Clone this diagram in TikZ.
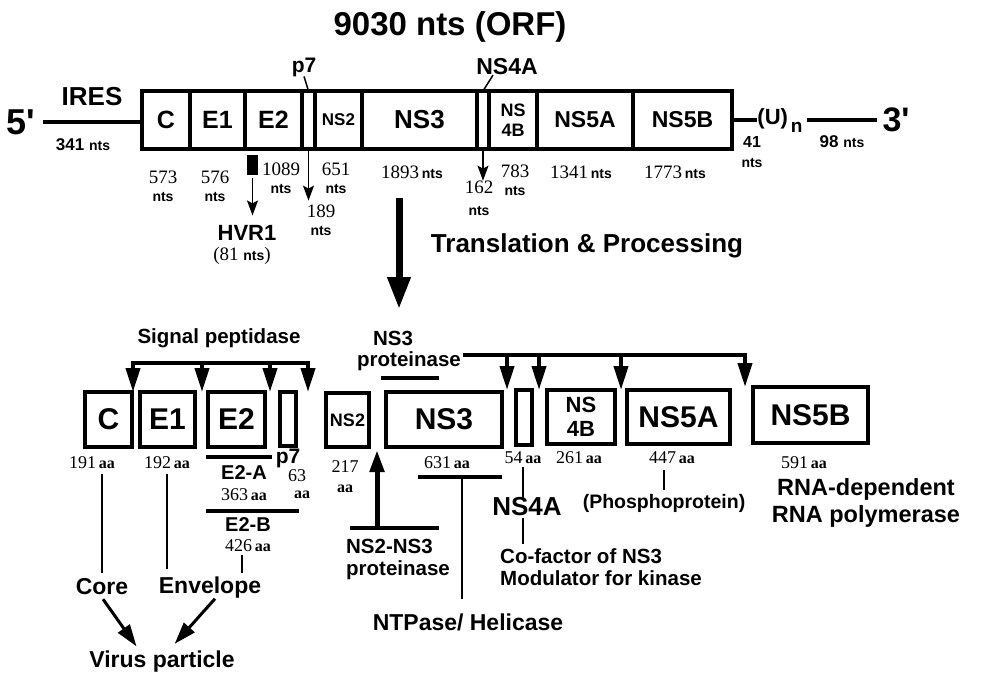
\documentclass[tikz,border=0pt]{standalone}
\usepackage{fontspec}
\setmainfont{Liberation Sans}
\newfontfamily\serf{Liberation Serif}
\usetikzlibrary{arrows.meta}
\newcommand\fsz[2]{\fontsize{#1}{#2}\selectfont}
\newcommand\nb[1]{{\serf\fsz{19}{19}#1}}
\newcommand\nbs[1]{{\serf\fsz{18}{18}#1}}
\newcommand\ntsw{{\bfseries\fsz{14}{14}nts}}
\newcommand\aaw{{\serf\bfseries\fsz{16}{16}aa}}
\begin{document}
\begin{tikzpicture}[x=1pt,y=-1pt,
 every node/.style={inner sep=0pt,outer sep=0pt},
 seg/.style={draw,line width=4pt,minimum height=58pt,font=\bfseries\fsz{25}{25},align=center},
 pbox/.style={draw,line width=4pt,font=\bfseries\fsz{30}{30},align=center},
 lbl/.style={font=\bfseries\fsz{20.5}{22},align=center},
 biglbl/.style={font=\bfseries\fsz{23}{26},align=center},
 num/.style={align=center,font=\fsz{14}{18}},
 thinln/.style={line width=1.5pt},
 rna/.style={line width=3.5pt},
 barln/.style={line width=4pt,line cap=rect},
 cut/.style={line width=4pt,-{Triangle[length=24pt,width=14pt]}},
 pin/.style={line width=1.5pt,-{Stealth[length=15pt,width=11pt,inset=3pt]}},
 fate/.style={line width=3pt,-{Triangle[length=22pt,width=14pt]}},
 bigarrow/.style={line width=7pt,-{Triangle[length=32pt,width=22pt]}},
]
\useasboundingbox (0,0) rectangle (981,672);
% ---------- top: genome ----------
\node[font=\bfseries\fsz{33}{33}] (orf) at (450,27) {9030 nts (ORF)};
\node[font=\bfseries\fsz{36}{36}] (five) at (21,122) {5\textquotesingle};
\node[font=\bfseries\fsz{26}{26}] (ires) at (92,97) {IRES};
\node[font=\bfseries\fsz{17}{17}] (n341) at (83,145) {341 {\fsz{14}{14}nts}};

\node[seg,minimum width=48pt] (sC) at (166,120) {C};
\node[seg,minimum width=55pt] (sE1) at (217.5,120) {E1};
\node[seg,minimum width=57pt] (sE2) at (273.5,120) {E2};
\node[seg,minimum width=13pt] (sp7) at (308.5,120) {};
\node[seg,minimum width=47pt,font=\bfseries\fsz{17}{17}] (sNS2) at (338.5,120) {NS2};
\node[seg,minimum width=115pt,font=\bfseries\fsz{26}{26}] (sNS3) at (419.5,120) {NS3};
\node[seg,minimum width=12pt] (sNS4A) at (483,120) {};
\node[seg,minimum width=48pt,font=\bfseries\fsz{18}{20}] (sNS4B) at (513,120) {NS\\4B};
\node[seg,minimum width=96pt,font=\bfseries\fsz{23}{23}] (sNS5A) at (585,120) {NS5A};
\node[seg,minimum width=99pt,font=\bfseries\fsz{23}{23}] (sNS5B) at (682.5,120) {NS5B};

\draw[rna,shorten <=8pt] (five.east) -- (five.east -| sC.west);
\node[font=\bfseries\fsz{22}{22}] (polyU) at (780,121) {(U)\kern3pt\raisebox{-8pt}{\fsz{19}{19}n}};
\draw[rna] (sNS5B.east) -- (sNS5B.east -| polyU.west);
\node[font=\bfseries\fsz{34}{34}] (three) at (896,120) {3\textquotesingle};
\draw[rna,shorten <=4pt,shorten >=6pt] (polyU.east |- three.west) -- (three.west);
\node[font=\bfseries\fsz{16}{20},align=center] (n41) at (752,152) {41\\{\fsz{14}{14}nts}};
\node[font=\bfseries\fsz{17}{17}] (n98) at (842,142) {98 {\fsz{14}{14}nts}};

\node[font=\bfseries\fsz{21}{21}] (p7top) at (304,67) {p7};
\node[font=\bfseries\fsz{23}{23}] (nsfourAtop) at (507,67) {NS4A};
\draw[thinln] (p7top.south) -- (sp7.north);
\draw[thinln] ([xshift=-14pt]nsfourAtop.south) -- (sNS4A.north);

\node[num] (l573) at (163,186) {\nb{573}\\\ntsw};
\node[num] (l576) at (215,186) {\nb{576}\\\ntsw};
\node[fill=black,minimum width=11pt,minimum height=20pt] (hvrbox) at (252.5,165) {};
\node[font=\bfseries\fsz{22}{22}] (hvr) at (247,233) {HVR1};
\node (hvrn) at (242,256) {\nb{(81 }\ntsw\nb{)}};
\draw[pin,shorten <=3pt,shorten >=10pt] (hvrbox.south) -- (hvrbox.south |- hvr.north);
\node[num] (l1089) at (281,178) {\nb{1089}\\\ntsw};
\node[num] (l189) at (321,220) {\nb{189}\\\ntsw};
\draw[pin,shorten >=4pt] (sp7.south) -- (sp7.south |- l189.north);
\node[num] (l651) at (336,178) {\nb{651}\\\ntsw};
\node (l1893) at (412,172) {\nb{1893} \ntsw};
\node[num] (l162) at (479,198) {\nb{162}\\[4pt]\ntsw};
\draw[pin] (sNS4A.south) -- (sNS4A.south |- l162.north);
\node[num] (l783) at (515,180) {\nb{783}\\\ntsw};
\node (l1341) at (581,172) {\nb{1341} \ntsw};
\node (l1773) at (675,172) {\nb{1773} \ntsw};

% ---------- translation arrow ----------
\coordinate (tlA) at (399,198);
\coordinate (tlB) at (399,309);
\draw[bigarrow] (tlA) -- (tlB);
\node[font=\bfseries\fsz{26}{26}] (transl) at (587,246) {Translation \& Processing};

% ---------- bottom: proteins ----------
\node[pbox,minimum width=47pt,minimum height=55pt] (bC) at (108.5,419.5) {C};
\node[pbox,minimum width=55pt,minimum height=55pt] (bE1) at (167.5,419.5) {E1};
\node[pbox,minimum width=57pt,minimum height=55pt] (bE2) at (236.5,419.5) {E2};
\node[pbox,minimum width=16pt,minimum height=54pt] (bp7) at (288,419) {};
\node[pbox,minimum width=43pt,minimum height=54pt,font=\bfseries\fsz{18}{18}] (bNS2) at (347.5,420) {NS2};
\node[pbox,minimum width=116pt,minimum height=55pt] (bNS3) at (444,419.5) {NS3};
\node[pbox,minimum width=16pt,minimum height=55pt] (bNS4A) at (524,417.5) {};
\node[pbox,minimum width=68pt,minimum height=54pt,font=\bfseries\fsz{22}{24}] (bNS4B) at (581,417) {NS\\4B};
\node[pbox,minimum width=103pt,minimum height=54pt] (bNS5A) at (678.5,417) {NS5A};
\node[pbox,minimum width=115pt,minimum height=56pt] (bNS5B) at (810.5,415) {NS5B};

% signal peptidase
\node[lbl] (sigp) at (219,338) {Signal peptidase};
\coordinate (spa) at (133,363);
\coordinate (spb) at (202,363);
\coordinate (spc) at (270,363);
\coordinate (spd) at (308,363);
\draw[barln] (spa) -- (spd);
\draw[cut] (spa) -- (spa |- bC.north);
\draw[cut] (spb) -- (spb |- bE1.north);
\draw[cut] (spc) -- (spc |- bE2.north);
\draw[cut] (spd) -- (spd |- bp7.north);

% NS3 proteinase
\node[lbl] (nsp1) at (393,338) {NS3};
\node[lbl] (nsp2) at (409,361) {proteinase};
\coordinate (pu1) at (383,378);
\coordinate (pu2) at (437,378);
\draw[barln] (pu1) -- (pu2);
\coordinate (pra) at (465,355);
\coordinate (prb) at (507,355);
\coordinate (prc) at (539,355);
\coordinate (prd) at (621,355);
\coordinate (pre) at (745,355);
\draw[barln] (pra) -- (pre);
\draw[cut] (prb) -- (prb |- bNS4A.north);
\draw[cut] (prc) -- (prc |- bNS4B.north);
\draw[cut] (prd) -- (prd |- bNS5A.north);
\draw[cut] (pre) -- (pre |- bNS5B.north);

% sizes
\node (aa191) at (92,463) {\nbs{191} \aaw};
\node (aa192) at (167,463) {\nbs{192} \aaw};
\coordinate (e2a1) at (208,457);
\coordinate (e2a2) at (270,457);
\draw[barln] (e2a1) -- (e2a2);
\node[font=\bfseries\fsz{20}{20}] (e2a) at (244,473) {E2-A};
\node (aa363) at (244,495) {\nbs{363} \aaw};
\coordinate (e2b1) at (208,511);
\coordinate (e2b2) at (297,511);
\draw[barln] (e2b1) -- (e2b2);
\node[font=\bfseries\fsz{20}{20}] (e2b) at (248,525) {E2-B};
\node (aa426) at (248,546) {\nbs{426} \aaw};
\node[font=\bfseries\fsz{21}{21}] (p7bot) at (288,458) {p7};
\node (n63) at (297,476) {\nbs{63}};
\node (aa63) at (302,495) {\aaw};
\node[align=center,font=\fsz{18}{20}] (aa217) at (345,477) {\nbs{217}\\\aaw};

% core / envelope
\node[biglbl] (core) at (102,587) {Core};
\node[biglbl] (env) at (210,588) {Envelope};
\node[biglbl] (virus) at (162,662) {Virus particle};
\draw[thinln,shorten <=5pt,shorten >=6pt] (core.north |- aa191.south) -- (core.north);
\draw[thinln,shorten <=5pt,shorten >=8pt] (aa192.south) -- (aa192.south |- env.north);
\draw[thinln,shorten <=3pt,shorten >=4pt] ([xshift=-6pt]aa426.south) -- ([xshift=-6pt]aa426.south |- env.north);
\draw[fate,shorten >=6pt] ([xshift=1pt,yshift=-4pt]core.south) -- ([xshift=-22pt]virus.north);
\draw[fate,shorten >=10pt] ([xshift=5pt]env.south) -- ([xshift=6pt]virus.north);

% NS2-NS3 proteinase
\coordinate (n23a) at (352,528);
\coordinate (n23b) at (437,528);
\coordinate (n23m) at (377,528);
\coordinate (n23tip) at (377,450);
\draw[barln] (n23a) -- (n23b);
\draw[line width=5pt,-{Triangle[length=22pt,width=14pt]}] (n23m) -- (n23tip);
\node[lbl,align=left] (n23t) at (398,559) {NS2-NS3\\proteinase};

% NS3 helicase
\node (aa631) at (447,463) {\nbs{631} \aaw};
\coordinate (h1) at (420,477);
\coordinate (h2) at (500,477);
\coordinate (hm) at (462,477);
\draw[barln] (h1) -- (h2);
\node[biglbl] (ntp) at (468,622) {NTPase/ Helicase};
\draw[thinln,shorten >=14pt] (hm) -- (hm |- ntp.north);

% NS4A
\node (aa54) at (523,458) {\nbs{54} \aaw};
\node[font=\bfseries\fsz{26}{26}] (ns4abot) at (527,507) {NS4A};
\draw[thinln,shorten <=3pt] (aa54.south) -- (aa54.south |- ns4abot.north);
\node[font=\bfseries\fsz{20.5}{22},align=left] (cof) at (601,567) {Co-factor of NS3\\Modulator for kinase};
\draw[thinln,shorten <=2pt,shorten >=4pt] ([xshift=-4pt]ns4abot.south) -- ([xshift=-4pt]ns4abot.south |- cof.north);

% NS4B / NS5A / NS5B
\node (aa261) at (579,458) {\nbs{261} \aaw};
\node (aa447) at (672,458) {\nbs{447} \aaw};
\node[font=\bfseries\fsz{19.5}{20}] (phos) at (664,503) {(Phosphoprotein)};
\draw[thinln,shorten <=6pt,shorten >=4pt] (phos.north |- aa447.south) -- (phos.north);
\node (aa591) at (804,463) {\nbs{591} \aaw};
\node[font=\bfseries\fsz{23.5}{27},align=center] (rdrp) at (866,503) {RNA-dependent\\RNA polymerase};
\end{tikzpicture}
\end{document}
